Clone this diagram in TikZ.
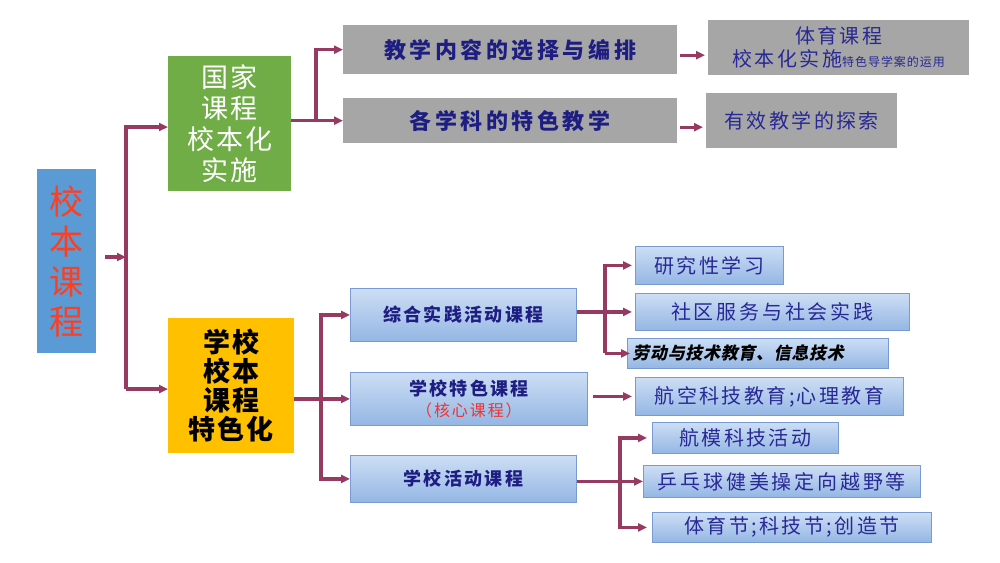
\documentclass[tikz,border=0pt]{standalone}
\usepackage{fontspec}
\usetikzlibrary{arrows.meta}
\newfontfamily\cjk{Noto Sans CJK SC}
\newfontfamily\cjksl[FakeSlant=0.2]{Noto Sans CJK SC}
\newcommand\cjf[3]{\cjk\mdseries\addfontfeatures{LetterSpace=#3}\fontsize{#1}{#2}\selectfont}
\newcommand\cjfb[3]{\cjk\bfseries\addfontfeatures{LetterSpace=#3}\fontsize{#1}{#2}\selectfont}
\definecolor{cline}{RGB}{150,58,98}
\definecolor{rootblue}{RGB}{91,155,213}
\definecolor{rootred}{RGB}{255,62,32}
\definecolor{greenc}{RGB}{112,173,71}
\definecolor{yellowc}{RGB}{255,192,0}
\definecolor{grayc}{RGB}{166,166,166}
\definecolor{navy}{RGB}{30,30,130}
\definecolor{bluetxt}{RGB}{40,40,150}
\definecolor{redtxt}{RGB}{240,50,50}
\definecolor{bltop}{RGB}{205,222,244}
\definecolor{blbot}{RGB}{148,182,228}
\definecolor{blborder}{RGB}{120,155,210}
\tikzset{
  conn/.style={draw=cline, line width=3.2pt},
  arr/.style={conn, -{Triangle[length=9pt,width=8pt]}},
  boxbase/.style={anchor=north west, inner sep=0pt, align=center},
  graybox/.style={boxbase, fill=grayc},
  bluebox/.style={boxbase, top color=bltop, bottom color=blbot, draw=blborder, line width=0.8pt},
}
\begin{document}
\begin{tikzpicture}[x=1pt,y=-1pt]
\useasboundingbox[fill=white] (0,0) rectangle (1000,562);
% level 0
\node[boxbase, fill=rootblue, minimum width=59pt, minimum height=184pt, text=rootred,
  font=\cjf{34}{40}{0}] (root) at (37,169) {校\\本\\课\\程};
% level 1
\node[boxbase, fill=greenc, minimum width=123pt, minimum height=135pt, text=white,
  font=\cjf{27}{31}{8}] (green) at (168,56) {国家\\课程\\校本化\\实施};
\node[boxbase, fill=yellowc, minimum width=126pt, minimum height=135pt, text=black,
  font=\cjfb{27}{29}{8}] (yellow) at (168,318) {学校\\校本\\课程\\特色化};
% level 2 (top)
\node[graybox, minimum width=334pt, minimum height=49pt, text=navy,
  font=\cjfb{22}{26}{16}] (g1) at (343,25) {教学内容的选择与编排};
\node[graybox, minimum width=334pt, minimum height=45pt, text=navy,
  font=\cjfb{22}{26}{16}] (g2) at (343,98) {各学科的特色教学};
% level 3 (top)
\node[graybox, minimum width=261pt, minimum height=55pt, text=bluetxt,
  font=\cjf{20}{23}{12}] (r1) at (708,20) {体育课程\\校本化实施{\cjf{12}{14}{8}特色导学案的运用}};
\node[graybox, minimum width=191pt, minimum height=55pt, text=bluetxt,
  font=\cjf{20}{23}{12}] (r2) at (706,93) {有效教学的探索};
% level 2 (bottom)
\node[bluebox, minimum width=226pt, minimum height=53pt, text=navy,
  font=\cjfb{18}{21}{13}] (A) at (350,288) {综合实践活动课程};
\node[bluebox, minimum width=237pt, minimum height=53pt, text=navy,
  font=\cjfb{18}{21}{13}] (B) at (350,372) {学校特色课程\\{\cjf{16}{19}{12}\color{redtxt}（核心课程）}};
\node[bluebox, minimum width=226pt, minimum height=47pt, text=navy,
  font=\cjfb{18}{21}{13}] (C) at (350,455) {学校活动课程};
% level 3 (bottom)
\node[bluebox, minimum width=148pt, minimum height=38pt, text=bluetxt,
  font=\cjf{20}{23}{12}] (a1) at (635,246) {研究性学习};
\node[bluebox, minimum width=274pt, minimum height=37pt, text=bluetxt,
  font=\cjf{20}{23}{14}] (a2) at (635,293) {社区服务与社会实践};
\node[bluebox, minimum width=261pt, minimum height=30pt, text=black, align=left,
  text width=251pt, inner xsep=5pt,
  font={\cjksl\bfseries\addfontfeatures{LetterSpace=4}\fontsize{17}{20}\selectfont}] (a3) at (627,338) {劳动与技术教育、信息技术};
\node[bluebox, minimum width=268pt, minimum height=38pt, text=bluetxt,
  font=\cjf{20}{23}{12}] (b1) at (635,377) {航空科技教育;心理教育};
\node[bluebox, minimum width=186pt, minimum height=31pt, text=bluetxt,
  font=\cjf{20}{23}{12}] (c1) at (652,422) {航模科技活动};
\node[bluebox, minimum width=277pt, minimum height=32pt, text=bluetxt,
  font=\cjf{20}{23}{14}] (c2) at (643,465) {乒乓球健美操定向越野等};
\node[bluebox, minimum width=279pt, minimum height=30pt, text=bluetxt,
  font=\cjf{20}{23}{12}] (c3) at (652,512) {体育节;科技节;创造节};
% junction coordinates
\coordinate (s1) at (105,257);
\coordinate (j1) at (126,257);
\coordinate (j1t) at (126,127);
\coordinate (j1b) at (126,389);
\coordinate (j2) at (316,0);
\coordinate (j5) at (321,0);
\coordinate (j3) at (605,0);
\coordinate (j4) at (620,0);
\coordinate (g1o) at ([xshift=3pt,yshift=-5.5pt]g1.east);
\coordinate (g2o) at ([xshift=3pt,yshift=-6.5pt]g2.east);
\coordinate (bo) at ([xshift=5pt]B.east);
% connectors
\draw[arr] (s1) -- (j1);
\draw[arr] (j1b) -- (j1t) -- (j1t -| green.west);
\draw[arr] (j1b) -- (j1b -| yellow.west);
\draw[arr] (green.east |- g2.west) -- (g2.west);
\draw[arr] (j2 |- g2.west) -- (j2 |- g1.west) -- (g1.west);
\draw[arr, shorten >=3pt] (g1o) -- (g1o -| r1.west);
\draw[arr, shorten >=3pt] (g2o) -- (g2o -| r2.west);
\draw[arr] (yellow.east |- B.west) -- (B.west);
\draw[arr] (j5 |- C.west) -- (j5 |- A.west) -- (A.west);
\draw[arr] (j5 |- B.west) -- (j5 |- C.west) -- (C.west);
\draw[arr, shorten >=3pt] (A.east |- a2.west) -- (a2.west);
\draw[arr, shorten >=3pt] (j3 |- a3.west) -- (j3 |- a1.west) -- (a1.west);
\draw[arr] (j3 |- a3.west) -- ([xshift=3pt]a3.west);
\draw[arr, shorten >=3pt] (bo |- b1.west) -- (b1.west);
\draw[arr] (C.east |- c2.west) -- (c2.west);
\draw[arr, shorten >=5pt] (j4 |- c3.west) -- (j4 |- c1.west) -- (c1.west);
\draw[arr, shorten >=5pt] (j4 |- c2.west) -- (j4 |- c3.west) -- (c3.west);
\end{tikzpicture}
\end{document}
